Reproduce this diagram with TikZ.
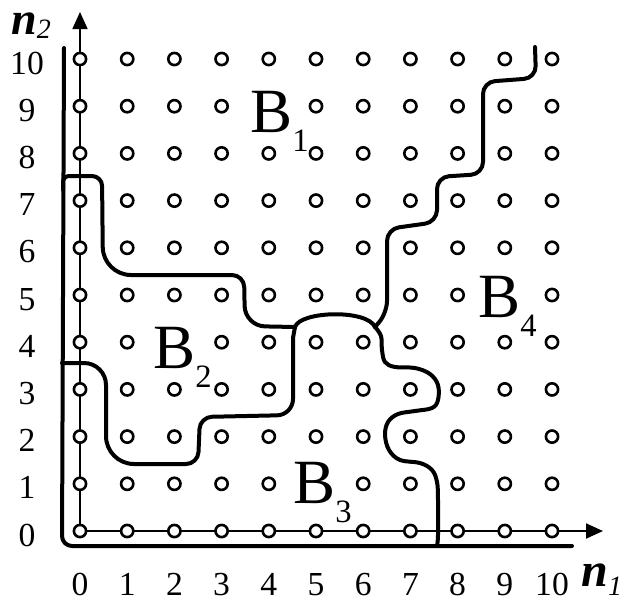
\documentclass[tikz,border=0pt]{standalone}
\usepackage{fontspec}
\setmainfont{Liberation Serif}
\usetikzlibrary{arrows.meta}
\newcommand\blab[1]{{\fontsize{31.5}{32}\selectfont B}\raisebox{-9.5pt}{\fontsize{16.3}{17}\selectfont #1}}
\begin{document}
\begin{tikzpicture}[x=0.5pt,y=-0.5pt,
  gridpt/.style={circle,draw,fill=white,line width=1.3pt,minimum size=6.1pt,inner sep=0pt},
  axisline/.style={line width=0.9pt,-{Triangle[length=8.5pt,width=7.5pt]}},
  bound/.style={line width=2pt,line cap=round,line join=round},
  tick/.style={font=\fontsize{16.8}{18}\selectfont,inner sep=0pt,anchor=base},
  region/.style={inner sep=0pt,anchor=base west}]
\useasboundingbox (0,0) rectangle (626,601);
% axes
\coordinate (O) at (80,531);
\coordinate (ytip) at (80,12);
\coordinate (xtip) at (603,531);
\draw[axisline] (O) -- (ytip);
\draw[axisline] (O) -- (xtip);
% grid points (those hidden by the region names are left out)
\foreach \i in {0,...,10}{
  \foreach \j in {0,...,10}{
    \ifnum\numexpr 100*\i+\j\relax=409 \else
    \ifnum\numexpr 100*\i+\j\relax=204 \else
    \ifnum\numexpr 100*\i+\j\relax=501 \else
    \ifnum\numexpr 100*\i+\j\relax=905 \else
      \node[gridpt] (g-\i-\j) at ({80+47.2*\i},{531-47.2*\j}) {};
    \fi\fi\fi\fi
  }
}
% tick labels
\foreach \n in {0,...,10}{
  \node[tick] (xl-\n) at ({80+47.2*\n},595) {\n};
  \node[tick] (yl-\n) at (27,{531-47.2*\n+15}) {\n};
}
% axis names
\node[anchor=base west,inner sep=0pt] (n2lab) at (11,34)
  {\fontsize{23}{24}\selectfont\bfseries\itshape n\raisebox{-2pt}{\fontsize{14}{15}\selectfont\mdseries 2}};
\node[anchor=base west,inner sep=0pt] (n1lab) at (581,586)
  {\fontsize{24}{25}\selectfont\bfseries\itshape n\raisebox{-4.5pt}{\fontsize{14}{15}\selectfont\mdseries 1}};
% region names
\node[region] (B1) at (250,132) {\blab{1}};
\node[region] (B2) at (153,368) {\blab{2}};
\node[region] (B3) at (293,503) {\blab{3}};
\node[region] (B4) at (478,317) {\blab{4}};
% boundaries
\draw[bound,rounded corners=5pt] (64,48) -- (62,546) -- (572,546);
\draw[bound] (63,190) [rounded corners=3pt] -- (63,176) [rounded corners=5pt] -- (102,176)
  [rounded corners=14pt] -- (103,275) [rounded corners=6pt] -- (244,275)
  [rounded corners=10pt] -- (245,326) -- (295,327);
\draw[bound] (295,327) .. controls (300,311) and (367,309) .. (375,327);
\draw[bound,rounded corners=6pt] (375,327) -- (387,313) -- (387,229) -- (437,222)
  -- (437,177) -- (483,174) -- (483,82) -- (536,78) -- (535,47);
\draw[bound] plot[smooth,tension=0.6] coordinates {(375,327) (381,336) (382,350) (385,362)
  (395,367) (415,368) (430,374) (438,385) (438,400) (432,408) (415,411) (398,414)
  (388,422) (385,435) (389,450) (400,460) (420,463) (432,470) (437,482) (438,500)
  (438,535) (437,546)};
\draw[bound] (295,327) -- (293,338) [rounded corners=8pt] -- (293,415)
  [rounded corners=6pt] -- (200,417) -- (198,464) [rounded corners=14pt] -- (106,464)
  [rounded corners=11pt] -- (106,363) -- (62,363);
\end{tikzpicture}
\end{document}
